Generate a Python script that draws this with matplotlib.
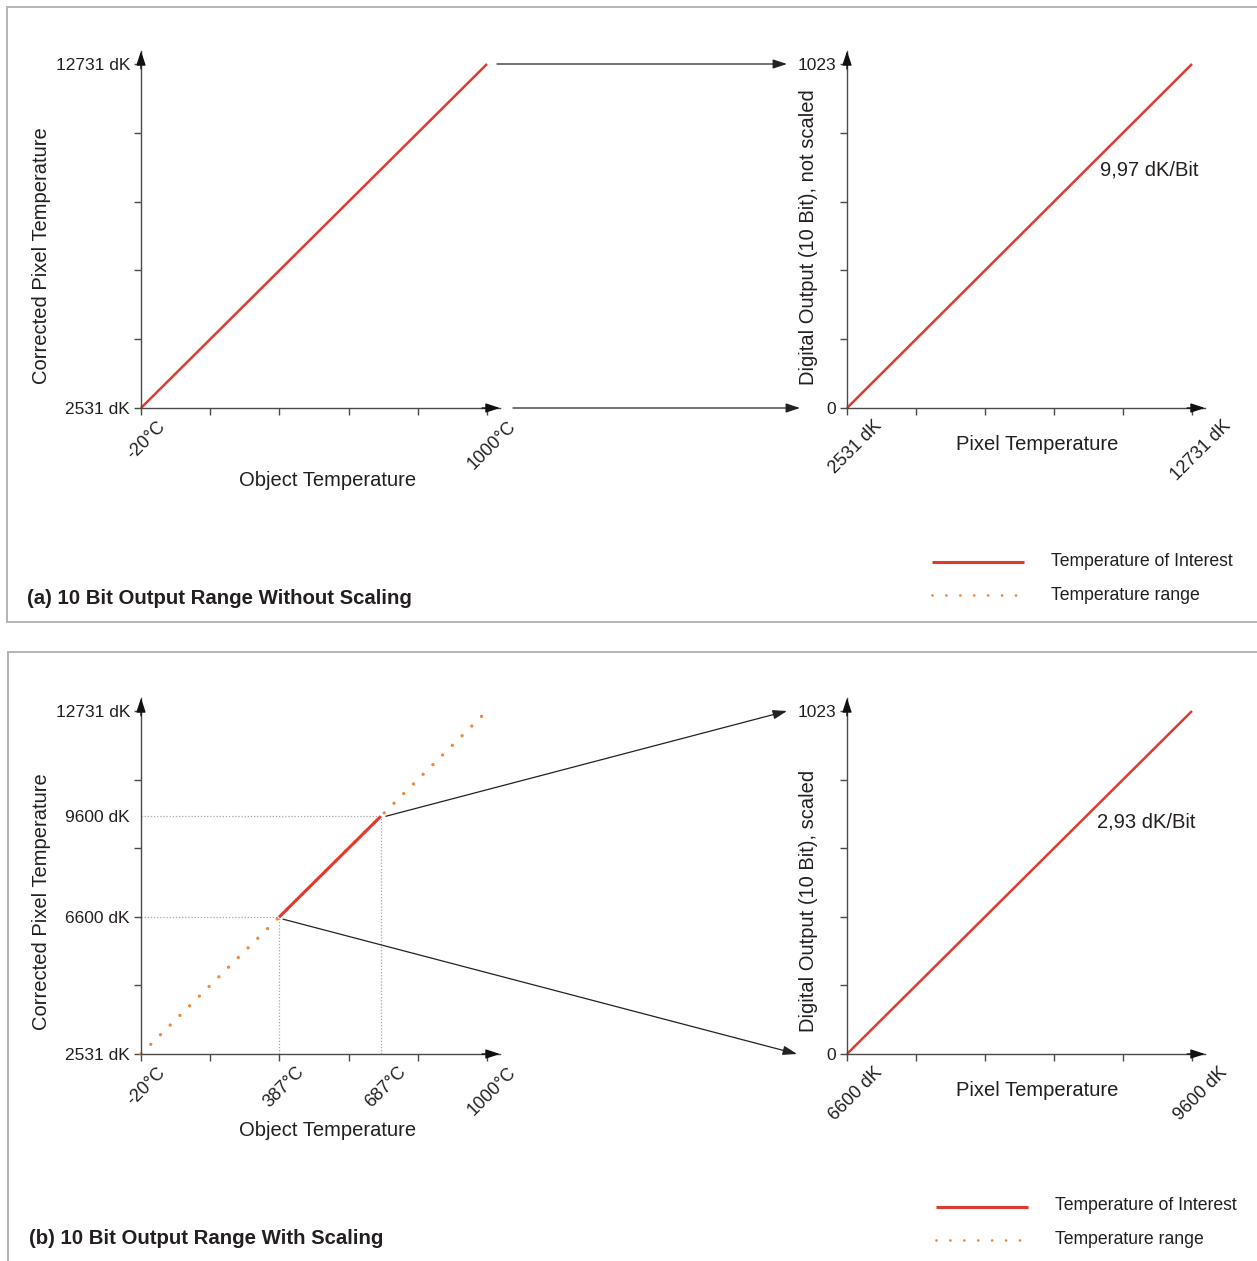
import matplotlib
matplotlib.use('Agg')
import numpy as np
import matplotlib.pyplot as plt
import matplotlib.transforms as mtransforms
from matplotlib.patches import ConnectionPatch

plt.rcParams['font.family'] = ['Liberation Sans', 'DejaVu Sans']

# values
obj_range = [-20, 1000]        # object temperature, degC
pix_range = [2531, 12731]      # corrected pixel temperature, dK
dig_range = [0, 1023]          # 10 bit digital output
roi_obj = [387, 687]           # temperature of interest, degC
roi_pix = [6600, 9600]         # temperature of interest, dK
res_unscaled = "9,97 dK/Bit"
res_scaled = "2,93 dK/Bit"
n_ticks = 6
legend_labels = ["Temperature of Interest", "Temperature range"]
titles = ["(a) 10 Bit Output Range Without Scaling",
          "(b) 10 Bit Output Range With Scaling"]

RED = '#e03a2f'
ORANGE = '#f0873a'
AXC = '#4a4a4a'
TXT = '#231f20'
BORDER = '#b4b4b4'

W, H = 1257, 1261
fig = plt.figure(figsize=(W / 100, H / 100), dpi=100)

# overlay in pixel coords for borders, titles, legend
ov = fig.add_axes([0, 0, 1, 1], zorder=0)
ov.set_xlim(0, W)
ov.set_ylim(H, 0)
ov.axis('off')

EXT = 13  # axis runs past last tick up to the arrow tip


def make_axes(geom, xr, yr):
    x0, x1, y0, y1 = geom
    ax = fig.add_axes([x0 / W, 1 - y0 / H, (x1 + EXT - x0) / W, (y0 - y1 + EXT) / H], zorder=2)
    ax.patch.set_alpha(0)
    ax.set_xlim(xr[0], xr[0] + (xr[1] - xr[0]) * (x1 + EXT - x0) / (x1 - x0))
    ax.set_ylim(yr[0], yr[0] + (yr[1] - yr[0]) * (y0 - y1 + EXT) / (y0 - y1))
    for s in ('top', 'right'):
        ax.spines[s].set_visible(False)
    for s in ('left', 'bottom'):
        ax.spines[s].set_color(AXC)
        ax.spines[s].set_linewidth(1.0)
    ax.tick_params(direction='out', length=5, width=1.0, color=AXC, labelcolor=TXT)
    ax.tick_params(axis='y', labelsize=12.5, pad=3)
    ax.tick_params(axis='x', labelsize=13, pad=2, labelrotation=45)
    ax.set_xticks(np.linspace(xr[0], xr[1], n_ticks))
    ax.set_yticks(np.linspace(yr[0], yr[1], n_ticks))
    head = dict(arrowstyle='-|>,head_length=0.85,head_width=0.28', mutation_scale=10,
                color='#111111', lw=1.0, shrinkA=0, shrinkB=0)
    ax.annotate('', xy=(1, 0), xytext=(0.95, 0), xycoords='axes fraction',
                arrowprops=head, annotation_clip=False)
    ax.annotate('', xy=(0, 1), xytext=(0, 0.95), xycoords='axes fraction',
                arrowprops=head, annotation_clip=False)
    return ax


def frac(geom, px, py):
    x0, x1, y0, y1 = geom
    return (px - x0) / (x1 + EXT - x0), (y0 - py) / (y0 - y1 + EXT)


def labels(ax, geom, ytext, ypos, xtext, xpos):
    ax.set_ylabel(ytext, fontsize=14.5, color=TXT, va='center')
    ax.yaxis.set_label_coords(*frac(geom, *ypos))
    ax.set_xlabel(xtext, fontsize=14.5, color=TXT, va='center')
    ax.xaxis.set_label_coords(*frac(geom, *xpos))


def end_labels(vals, fmt):
    return [fmt % vals[0]] + [''] * (n_ticks - 2) + [fmt % vals[1]]


def shift_xlabels(ax, dx):
    off = mtransforms.ScaledTranslation(dx / 100, 0, fig.dpi_scale_trans)
    for lab in ax.get_xticklabels(which='both'):
        lab.set_transform(lab.get_transform() + off)


def link(axA, xyA, offA, axB, xyB, offB):
    tA = mtransforms.offset_copy(axA.transData, fig=fig, x=offA[0], y=-offA[1], units='dots')
    tB = mtransforms.offset_copy(axB.transData, fig=fig, x=offB[0], y=-offB[1], units='dots')
    con = ConnectionPatch(xyA=xyA, coordsA=tA, xyB=xyB, coordsB=tB,
                          arrowstyle='-|>,head_length=0.85,head_width=0.28', mutation_scale=10,
                          color='#222222', lw=0.9, shrinkA=0, shrinkB=0, zorder=3)
    fig.add_artist(con)


g_tl = (141, 487, 408, 64)
g_tr = (847, 1192, 408, 64)
g_bl = (141, 487, 1054, 711)
g_br = (847, 1192, 1054, 711)

# ---- (a) without scaling ----
ax1 = make_axes(g_tl, obj_range, pix_range)
ax1.plot(obj_range, pix_range, color=RED, lw=1.8, solid_capstyle='butt', clip_on=False)
ax1.set_xticklabels(end_labels(obj_range, '%d°C'))
ax1.set_yticklabels(end_labels(pix_range, '%d dK'))
labels(ax1, g_tl, 'Corrected Pixel Temperature', (42, 256), 'Object Temperature', (328, 480))

ax2 = make_axes(g_tr, pix_range, dig_range)
ax2.plot(pix_range, dig_range, color=RED, lw=1.8, solid_capstyle='butt', clip_on=False)
ax2.set_xticklabels(end_labels(pix_range, '%d dK'))
ax2.set_yticklabels(end_labels(dig_range, '%d'))
labels(ax2, g_tr, 'Digital Output (10 Bit), not scaled', (808, 237), 'Pixel Temperature', (1037, 444))
ax2.text(*frac(g_tr, 1100, 170), res_unscaled, transform=ax2.transAxes, fontsize=14.5,
         color=TXT, ha='left', va='center')

link(ax1, (obj_range[1], pix_range[1]), (10, 0), ax2, (pix_range[0], dig_range[1]), (-60, 0))
link(ax1, (obj_range[1], pix_range[0]), (26, 0), ax2, (pix_range[0], dig_range[0]), (-47, 0))

# ---- (b) with scaling ----
ax3 = make_axes(g_bl, obj_range, pix_range)
ax3.plot(obj_range, pix_range, color=ORANGE, lw=2.4, linestyle=(0, (0.01, 4.1)),
         dash_capstyle='round', clip_on=False)
guide = dict(color='#a8a8a8', lw=0.9, linestyle=(0, (1, 1.5)))
for xo, yp in zip(roi_obj, roi_pix):
    ax3.plot([obj_range[0], xo], [yp, yp], **guide)
    ax3.plot([xo, xo], [pix_range[0], yp], **guide)
ax3.plot(roi_obj, roi_pix, color=RED, lw=2.2, solid_capstyle='butt', zorder=4)
ax3.set_xticklabels(end_labels(obj_range, '%d°C'))
ax3.set_yticklabels(end_labels(pix_range, '%d dK'))
ax3.set_xticks(roi_obj, ['%d°C' % v for v in roi_obj], minor=True)
ax3.set_yticks(roi_pix, ['%d dK' % v for v in roi_pix], minor=True)
ax3.tick_params(which='minor', length=0, labelcolor=TXT)
ax3.tick_params(axis='x', which='minor', labelsize=13, pad=7, labelrotation=45)
ax3.tick_params(axis='y', which='minor', labelsize=12.5, pad=8)
labels(ax3, g_bl, 'Corrected Pixel Temperature', (42, 902), 'Object Temperature', (328, 1130))

ax4 = make_axes(g_br, roi_pix, dig_range)
ax4.plot(roi_pix, dig_range, color=RED, lw=1.8, solid_capstyle='butt', clip_on=False)
ax4.set_xticklabels(end_labels(roi_pix, '%d dK'))
ax4.set_yticklabels(end_labels(dig_range, '%d'))
labels(ax4, g_br, 'Digital Output (10 Bit), scaled', (808, 901), 'Pixel Temperature', (1037, 1090))
ax4.text(*frac(g_br, 1097, 822), res_scaled, transform=ax4.transAxes, fontsize=14.5,
         color=TXT, ha='left', va='center')

link(ax3, (roi_obj[1], roi_pix[1]), (5, 0), ax4, (roi_pix[0], dig_range[1]), (-60, 0))
link(ax3, (roi_obj[0], roi_pix[0]), (4, 2), ax4, (roi_pix[0], dig_range[0]), (-50, 0))

shift_xlabels(ax1, 5)
shift_xlabels(ax3, 5)
shift_xlabels(ax2, 9)
shift_xlabels(ax4, 9)

# ---- panel frames, titles, legends ----
ov.plot([7, W], [7, 7], color=BORDER, lw=1.4)
ov.plot([7, 7], [7, 622], color=BORDER, lw=1.4)
ov.plot([7, W], [622, 622], color=BORDER, lw=1.4)
ov.plot([8, W], [652, 652], color=BORDER, lw=1.4)
ov.plot([8, 8], [652, H], color=BORDER, lw=1.4)

for (tx, ty), t in zip([(27, 598), (29, 1239)], titles):
    ov.text(tx, ty, t, fontsize=14.7, fontweight='bold', color=TXT, ha='left', va='center')

for lx, ly in [(932, 562), (936, 1207)]:
    ov.plot([lx, lx + 92], [ly, ly], color=RED, lw=2.2, solid_capstyle='butt')
    ov.plot([lx, lx + 86], [ly + 33, ly + 33], color=ORANGE, lw=2.0,
            linestyle=(0, (0.01, 5.0)), dash_capstyle='round')
    ov.text(lx + 119, ly - 1, legend_labels[0], fontsize=12.7, color=TXT, ha='left', va='center')
    ov.text(lx + 119, ly + 33, legend_labels[1], fontsize=12.7, color=TXT, ha='left', va='center')

fig.savefig('out.png', dpi=100, facecolor='white')
